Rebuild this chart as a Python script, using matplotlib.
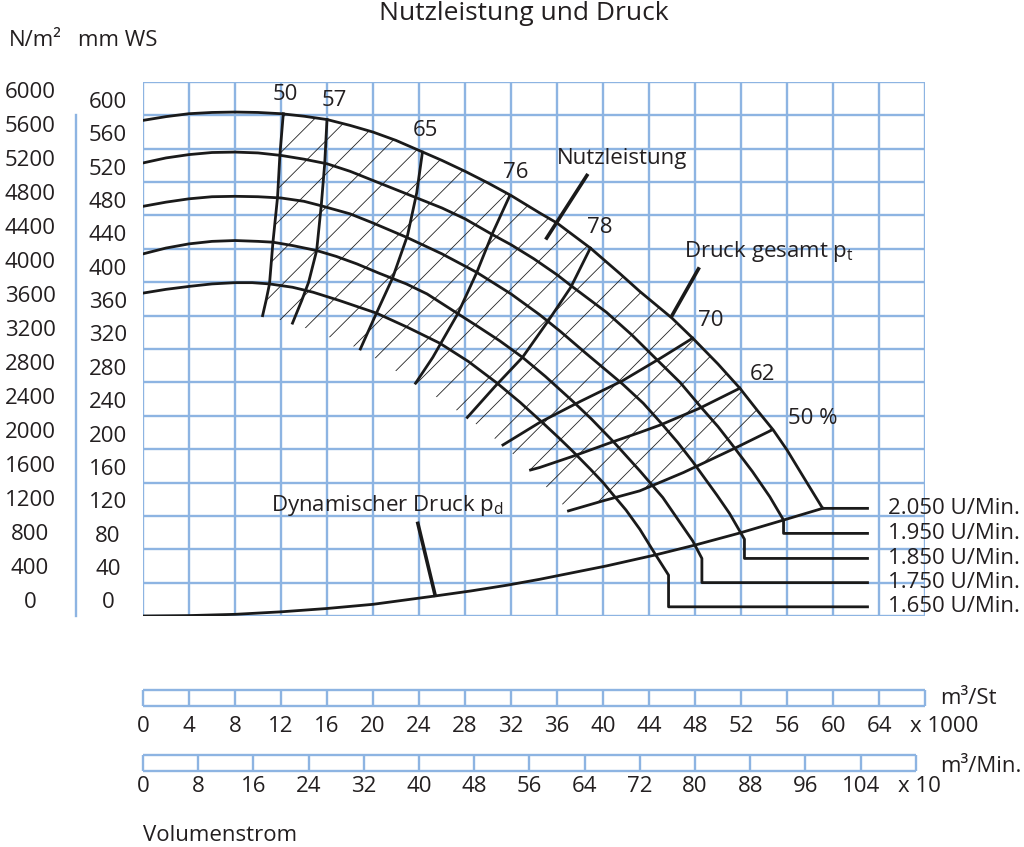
import numpy as np
import matplotlib
matplotlib.use("Agg")
import matplotlib.pyplot as plt
from matplotlib.patches import Polygon
from matplotlib.transforms import blended_transform_factory as blend

plt.rcParams['font.family'] = ['Open Sans', 'DejaVu Sans']
plt.rcParams['mathtext.fontset'] = 'custom'
plt.rcParams['mathtext.rm'] = 'Open Sans'
plt.rcParams['hatch.linewidth'] = 0.6

# ── Daten (x: Volumenstrom in 1000 m³/h, y: Druck in mm WS) ───────────────────
speeds = ["2.050", "1.950", "1.850", "1.750", "1.650"]

q2050 = [0, 2, 4, 6, 8, 10, 12, 14, 16, 18, 20, 22, 24, 26, 28, 30, 32, 34.5, 36, 38.9,
         41.5, 43.2, 46, 47.8, 50, 51.9, 53.5, 54.8, 56, 57.5, 59.1]
p2050 = [594, 598.5, 602, 603.5, 604, 603.5, 602, 599, 595, 588, 580, 570, 558, 546, 533, 519,
         504, 483, 471, 441, 410, 389, 357, 333, 302, 273, 245, 223, 199, 165, 129]

q1950 = [0, 2, 4, 6, 8, 10, 12, 14, 16, 18, 20, 22, 24, 26, 28, 30.4, 32, 34, 36, 37.4,
         40.3, 42.5, 44.7, 46.7, 48.6, 50, 51.3, 53, 54.5, 55.7]
p1950 = [543, 549, 553, 555.5, 556, 555, 552, 547.5, 542, 533, 522, 511, 500, 489, 476, 457,
         445, 428, 409, 394, 364, 337, 307, 280, 249, 227, 204, 173, 143, 115]

q1850 = [0, 2, 4, 6, 8, 10, 12, 14, 15.4, 18, 20, 22.9, 26, 29, 32, 34.5, 36.3, 38.5, 41.7,
         43.5, 45, 46.5, 47.8, 49.9, 51, 52.3]
p1850 = [491, 496, 500, 502.5, 503, 502.5, 501, 497, 492, 482, 471, 454, 434, 412, 386, 361,
         341, 315, 278, 255, 232, 208, 185, 145, 123, 92]

q1750 = [0, 2, 4, 6, 8, 10, 11.3, 13, 15.1, 16.8, 18.6, 20.5, 22.9, 24.7, 27.3, 29, 31, 33,
         35, 37.4, 39, 40.9, 43.2, 45.2, 46.7, 47.8, 48.6]
p1750 = [434, 441, 446, 449, 450, 449, 448, 444, 438, 431, 422, 411, 398, 386, 363, 348, 330,
         310, 287, 257, 236, 209, 174, 142, 112, 90, 69]

q1650 = [0, 2, 4, 6, 8, 9.5, 11, 13, 14.8, 17.1, 20.3, 23, 25.8, 28.3, 30.8, 32.8, 34.8,
         36.2, 37.4, 38.9, 40, 40.9, 42, 43.2, 44.5, 45.7]
p1650 = [387, 391.5, 395, 398, 399.5, 399.5, 398, 394, 388, 378, 363, 346, 327, 305, 279, 256,
         231, 213, 197, 176, 160, 145, 127, 104, 75, 49]

# Endstufen zu den Drehzahlbeschriftungen
step_low = [129, 99, 69, 40, 11]
step_end = 63

# Dynamischer Druck
q_dyn = [0, 4, 8, 12, 16, 20, 25.4, 28.5, 31.7, 34.5, 37.4, 40.3, 43.2, 44.5, 48, 51.9, 55.7, 59.1]
p_dyn = [0, 0.5, 2, 5, 9, 14, 24, 30, 37, 44, 52, 60, 69, 73, 85, 99.5, 115, 129]

# Wirkungsgradlinien
eta_labels = ["50", "57", "65", "76", "78", "70", "62", "50 %"]
eta_q = [
    [12.2, 11.9, 11.7, 11.3, 11.0, 10.7, 10.4],
    [16, 15.8, 15.5, 15.1, 14.4, 13.8, 13],
    [24.3, 23.8, 23, 21.7, 20.3, 18.9],
    [31.9, 30.4, 29, 27.4, 25.2, 23.7],
    [38.9, 37.2, 35.3, 33, 30.6, 28.2],
    [47.8, 45, 41.7, 38, 34.5, 31.3],
    [51.9, 48.4, 45, 43.2, 40.9, 37.5, 34.5, 33.7],
    [54.7, 51.3, 47, 43.2, 40, 37],
]
eta_p = [
    [602, 552, 502, 448, 398, 378, 360],
    [595, 542, 492, 438, 400, 378, 351],
    [556, 507, 456, 405, 363, 320],
    [504, 459, 411, 363, 310, 279],
    [441, 394, 355, 310, 275, 238],
    [333, 309, 282, 257, 232, 205],
    [273, 249, 229, 220, 209, 192, 178, 175],
    [223, 200, 172, 150, 138, 126],
]
eta_label_pos = [(12.4, 625), (16.6, 618), (24.6, 582), (32.4, 532), (39.7, 466),
                 (49.4, 354), (53.9, 289), (58.2, 237)]

mm_ticks = list(range(0, 601, 40))
nm_ticks = list(range(0, 6001, 400))
st_ticks = list(range(0, 65, 4))
min_ticks = list(range(0, 105, 8))

BLUE = "#8db4e2"
INK = "#231f20"
LINE = "#1a1a1a"
FS = 16
W, H = 1024, 847

fig = plt.figure(figsize=(W / 100, H / 100), dpi=100)

# ── Hauptdiagramm ─────────────────────────────────────────────────────────────
ax = fig.add_axes([143 / W, 1 - 616 / H, 782 / W, 534 / H])
ax.set_xlim(0, 68)
ax.set_ylim(0, 640)
ax.axis("off")
ax.vlines(np.arange(0, 69, 4), 0, 640, color=BLUE, lw=1.7, zorder=1)
ax.hlines(np.arange(0, 641, 40), 0, 68, color=BLUE, lw=1.7, zorder=1)

# Schraffur (Nutzleistungsbereich)
top_q = [q for q in q2050 if eta_q[0][0] < q < eta_q[7][0]]
top_p = [p for q, p in zip(q2050, p2050) if eta_q[0][0] < q < eta_q[7][0]]
poly_q = eta_q[0][::-1] + top_q + eta_q[7] + [l[-1] for l in eta_q[6:0:-1]]
poly_p = eta_p[0][::-1] + top_p + eta_p[7] + [l[-1] for l in eta_p[6:0:-1]]
ax.add_patch(Polygon(np.column_stack([poly_q, poly_p]), closed=True, fill=False,
                     hatch="/", edgecolor="#222222", lw=0, zorder=2))

curves = [(q2050, p2050), (q1950, p1950), (q1850, p1850), (q1750, p1750), (q1650, p1650)]
for i, (q, p) in enumerate(curves):
    qq = list(q) + [q[-1], step_end]
    pp = list(p) + [step_low[i], step_low[i]]
    ax.plot(qq, pp, color=LINE, lw=2.0, zorder=4, solid_joinstyle="round")
    ax.text(step_end + 1.8, step_low[i], f"{speeds[i]} U/Min.", fontsize=FS,
            color=INK, va="center", ha="left")

ax.plot(q_dyn, p_dyn, color=LINE, lw=2.0, zorder=4)

for q, p in zip(eta_q, eta_p):
    ax.plot(q, p, color=LINE, lw=2.0, zorder=4)
for lab, (x, y) in zip(eta_labels, eta_label_pos):
    ax.text(x, y, lab, fontsize=FS, color=INK, ha="center", va="center")

# Hinweislinien
ax.plot([38.6, 35.1], [528, 453], color=LINE, lw=2.6, zorder=5)
ax.text(41.7, 548, "Nutzleistung", fontsize=FS, color=INK, ha="center", va="center")
ax.plot([48.3, 46.0], [416, 360], color=LINE, lw=2.6, zorder=5)
ax.text(47.0, 437, r"Druck gesamt p$_\mathrm{t}$", fontsize=FS, color=INK, ha="left", va="center")
ax.plot([23.9, 25.4], [111, 25], color=LINE, lw=2.6, zorder=5)
ax.text(11.1, 133, r"Dynamischer Druck p$_\mathrm{d}$", fontsize=FS, color=INK, ha="left", va="center")

# Y-Skalen
tf = blend(fig.transFigure, ax.transData)
lab_off = 15.6
for v in mm_ticks:
    ax.text(108 / W, v + lab_off, str(v), transform=tf, fontsize=FS, color=INK,
            ha="center", va="center")
for v in nm_ticks:
    ax.text(30 / W, v / 9.81 + lab_off, str(v), transform=tf, fontsize=FS, color=INK,
            ha="center", va="center")
ax.plot([76 / W, 76 / W], [0, 600], transform=tf, color=BLUE, lw=1.7, clip_on=False)

fig.text(35 / W, 1 - 40 / H, "N/m²", fontsize=FS, color=INK, ha="center", va="center")
fig.text(118 / W, 1 - 40 / H, "mm WS", fontsize=FS, color=INK, ha="center", va="center")
fig.text(524 / W, 1 - 14 / H, "Nutzleistung und Druck", fontsize=19, color=INK,
         ha="center", va="center")

# ── Volumenstrom-Skalen ──────────────────────────────────────────────────────
ax1 = fig.add_axes([143 / W, 1 - 706 / H, 782 / W, 16 / H])
ax1.set_xlim(0, 68)
ax1.set_ylim(0, 1)
ax1.axis("off")
ax1.vlines(np.arange(0, 69, 4), 0, 1, color=BLUE, lw=1.7, clip_on=False)
ax1.hlines([0, 1], 0, 68, color=BLUE, lw=1.7, clip_on=False)
for v in st_ticks:
    ax1.text(v, -1.25, str(v), fontsize=FS, color=INK, ha="center", va="center")
ax1.text(66.7, -1.25, "x 1000", fontsize=FS, color=INK, ha="left", va="center")
ax1.text(69.3, 0.45, "m³/St", fontsize=FS, color=INK, ha="left", va="center")

# m³/Min x10 -> 1000 m³/h : Faktor 0,6
span2 = 112 * 0.6 / 68 * 782
ax2 = fig.add_axes([143 / W, 1 - 771 / H, span2 / W, 16 / H])
ax2.set_xlim(0, 112)
ax2.set_ylim(0, 1)
ax2.axis("off")
ax2.vlines(np.arange(0, 113, 8), 0, 1, color=BLUE, lw=1.7, clip_on=False)
ax2.hlines([0, 1], 0, 112, color=BLUE, lw=1.7, clip_on=False)
for v in min_ticks:
    ax2.text(v, -1.0, str(v), fontsize=FS, color=INK, ha="center", va="center")
ax2.text(109.4, -1.0, "x 10", fontsize=FS, color=INK, ha="left", va="center")
ax2.text(115.5, 0.25, "m³/Min.", fontsize=FS, color=INK, ha="left", va="center")

fig.text(143 / W, 1 - 835 / H, "Volumenstrom", fontsize=FS, color=INK, ha="left", va="center")

fig.savefig("out.png", dpi=100)
